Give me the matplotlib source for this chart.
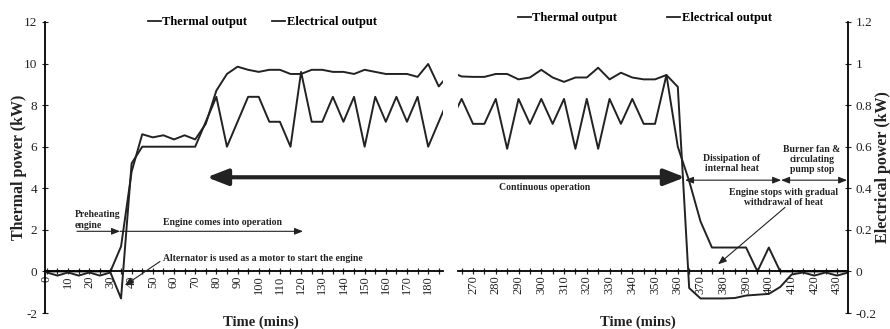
import matplotlib
matplotlib.use('Agg')
import matplotlib.pyplot as plt
from matplotlib.lines import Line2D
from matplotlib.ticker import MultipleLocator, FuncFormatter

plt.rcParams['font.family'] = ['Liberation Serif', 'DejaVu Serif']

INK = '#222222'

# time axis (mins); the logger gap between 190 and 260 is not plotted
minutes = [0, 5, 10, 15, 20, 25, 30, 35, 40, 45, 50, 55, 60, 65, 70, 75, 80, 85, 90, 95,
           100, 105, 110, 115, 120, 125, 130, 135, 140, 145, 150, 155, 160, 165, 170, 175,
           180, 185, 190,
           260, 265, 270, 275, 280, 285, 290, 295, 300, 305, 310, 315, 320, 325, 330, 335,
           340, 345, 350, 355, 360, 365, 370, 375, 380, 385, 390, 395, 400, 405, 410, 415,
           420, 425, 430, 435]

# thermal output (kW)
thermal = [0, 0, 0, 0, 0, 0, 0, 1.2, 4.8, 6.6, 6.45, 6.55, 6.35, 6.55, 6.35, 7.1, 8.7, 9.5,
           9.85, 9.7, 9.6, 9.7, 9.7, 9.5, 9.5, 9.7, 9.7, 9.6, 9.6, 9.5, 9.7, 9.6, 9.5, 9.5,
           9.5, 9.36, 9.98, 8.9, 9.5,
           9.6, 9.38, 9.36, 9.36, 9.5, 9.5, 9.24, 9.33, 9.7, 9.33, 9.12, 9.33, 9.33, 9.8,
           9.24, 9.56, 9.33, 9.24, 9.24, 9.45, 6.0, 4.35, 2.4, 1.15, 1.15, 1.15, 1.15, 0,
           1.15, 0, 0, 0, 0, 0, 0, 0]

# electrical output (kW)
electrical = [-0.005, -0.02, -0.005, -0.02, -0.005, -0.02, -0.005, -0.13, 0.52, 0.6, 0.6,
              0.6, 0.6, 0.6, 0.6, 0.72, 0.84, 0.6, 0.72, 0.84, 0.84, 0.72, 0.72, 0.6, 0.96,
              0.72, 0.72, 0.84, 0.72, 0.84, 0.6, 0.84, 0.72, 0.84, 0.72, 0.84, 0.6, 0.72,
              0.84,
              0.72, 0.83, 0.71, 0.71, 0.83, 0.59, 0.83, 0.71, 0.83, 0.71, 0.83, 0.59, 0.83,
              0.59, 0.83, 0.71, 0.83, 0.71, 0.71, 0.945, 0.888, -0.08, -0.13, -0.13, -0.13,
              -0.128, -0.116, -0.112, -0.108, -0.075, -0.015, -0.005, -0.02, -0.005, -0.02,
              -0.005]

fig = plt.figure(figsize=(8.9, 3.29), dpi=100)
ax1 = fig.add_axes([45 / 890, 16 / 329, 398 / 890, 291 / 329])
ax2 = fig.add_axes([458 / 890, 16 / 329, 390 / 890, 291 / 329])
ax1e = ax1.twinx()
ax2e = ax2.twinx()

for ax, xlim in ((ax1, (-0.9, 187)), (ax2, (263.4, 434.8))):
    ax.plot(minutes, thermal, color=INK, lw=1.4)
    ax.set_xlim(*xlim)
    ax.set_ylim(-2, 12)
    ax.spines['bottom'].set_position(('data', 0))
    ax.spines['top'].set_visible(False)
    ax.spines['right'].set_visible(False)
    ax.spines['bottom'].set_linewidth(1.3)
    ax.xaxis.set_major_locator(MultipleLocator(10))
    ax.xaxis.set_minor_locator(MultipleLocator(5))
    ax.tick_params(axis='x', which='both', direction='inout', length=4, width=0.9,
                   labelrotation=90, labelsize=9, pad=1, colors=INK)
    ax.set_xlabel('Time (mins)', fontsize=10.5, fontweight='bold', color=INK)

for axe in (ax1e, ax2e):
    axe.plot(minutes, electrical, color=INK, lw=1.4)
    axe.set_ylim(-0.2, 1.2)
    for s in ('top', 'bottom', 'left'):
        axe.spines[s].set_visible(False)

ax1.xaxis.set_label_coords(0.543, -0.01)
ax2.xaxis.set_label_coords(0.46, -0.01)

# left axis (thermal)
ax1.spines['left'].set_linewidth(1.3)
ax1.yaxis.set_major_locator(MultipleLocator(2))
ax1.yaxis.set_major_formatter(FuncFormatter(lambda v, p: f'{v:g}'))
ax1.tick_params(axis='y', direction='inout', length=4, labelsize=9.5, colors=INK)
ax1.set_ylabel('Thermal power (kW)', fontsize=11.5, fontweight='bold', color=INK)
ax1.yaxis.set_label_coords(-0.045, 0.5)
ax1e.spines['right'].set_visible(False)
ax1e.set_yticks([])

# right axis (electrical)
ax2.spines['left'].set_visible(False)
ax2.tick_params(axis='y', left=False, labelleft=False)
ax2e.spines['right'].set_linewidth(1.3)
ax2e.yaxis.set_major_locator(MultipleLocator(0.2))
ax2e.yaxis.set_major_formatter(FuncFormatter(lambda v, p: f'{round(v, 1):g}'))
ax2e.tick_params(axis='y', direction='inout', length=4, labelsize=9.5, colors=INK)
ax2e.set_ylabel('Electrical power (kW)', fontsize=11.5, fontweight='bold', color=INK)
ax2e.yaxis.set_label_coords(1.07, 0.5)

# legends
handles = [Line2D([], [], color=INK, lw=1.3), Line2D([], [], color=INK, lw=1.3)]
labels = ['Thermal output', 'Electrical output']
leg_kw = dict(ncol=2, loc='center left', frameon=False, handlelength=1.0,
              handletextpad=0.15, borderpad=0, borderaxespad=0,
              prop={'weight': 'bold', 'size': 9})
ax1e.legend(handles, labels, bbox_to_anchor=(103 / 398, 1.0), columnspacing=2.0, **leg_kw)
ax2e.legend(handles, labels, bbox_to_anchor=(60 / 390, 1.014), columnspacing=4.0, **leg_kw)

# annotations
TXT = dict(fontsize=7, fontweight='bold', color=INK)
thin = dict(arrowstyle='-|>,head_length=0.5,head_width=0.2', lw=0.8, color=INK,
            shrinkA=0, shrinkB=0)
thin2 = dict(arrowstyle='<|-|>,head_length=0.5,head_width=0.2', lw=0.8, color=INK,
             shrinkA=0, shrinkB=0)

ax1.text(13.2, 2.0, 'Preheating\nengine', ha='left', va='bottom', linespacing=1.2, **TXT)
ax1.annotate('', xy=(34.5, 1.93), xytext=(14.2, 1.93), arrowprops=thin)
ax1.annotate('', xy=(120.9, 1.93), xytext=(34.5, 1.93), arrowprops=thin)
ax1.text(54.8, 2.36, 'Engine comes into operation', ha='left', va='center', **TXT)
ax1.text(54.8, 0.63, 'Alternator is used as a motor to start the engine',
         ha='left', va='center', **TXT)
ax1.annotate('', xy=(36.8, -0.67), xytext=(53.4, 0.48), arrowprops=thin)

ax2.annotate('', xy=(363.2, 4.53), xytext=(75.5, 4.53), textcoords=ax1.transData,
             arrowprops=dict(arrowstyle='<|-|>,head_length=0.9,head_width=0.35', lw=3,
                             color=INK, shrinkA=0, shrinkB=0, mutation_scale=14))
ax2.text(301.6, 4.05, 'Continuous operation', ha='center', va='center', **TXT)

ax2.annotate('', xy=(405.4, 4.39), xytext=(363.2, 4.39), arrowprops=thin2)
ax2.annotate('', xy=(434.4, 4.39), xytext=(405.4, 4.39), arrowprops=thin2)
ax2.text(383.8, 5.18, 'Dissipation of\ninternal heat', ha='center', va='center',
         linespacing=1.15, **TXT)
ax2.text(419, 5.4, 'Burner fan &\ncirculating\npump stop', ha='center', va='center',
         linespacing=1.15, **TXT)
ax2.text(406.3, 3.54, 'Engine stops with gradual\nwithdrawal of heat', ha='center',
         va='center', linespacing=1.15, **TXT)
ax2.annotate('', xy=(377.7, 0.34), xytext=(407.1, 3.08), arrowprops=thin)

fig.savefig('out.png', dpi=100)
